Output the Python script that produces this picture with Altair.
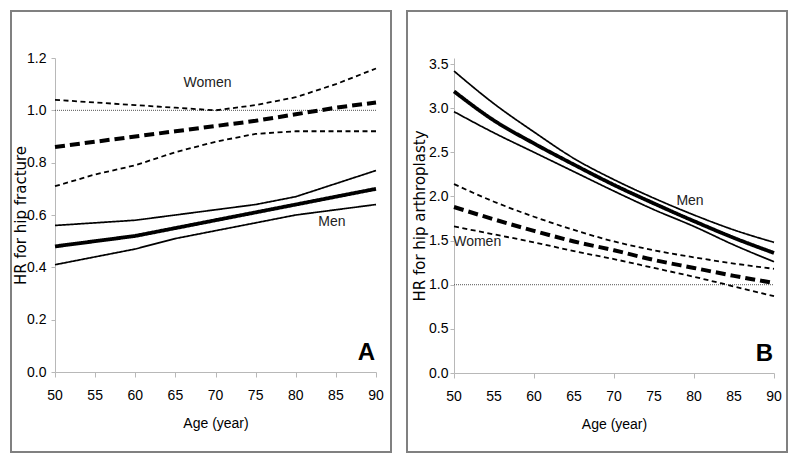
import altair as alt
import pandas as pd

ages = [50, 55, 60, 65, 70, 75, 80, 85, 90]

# Panel A: HR for hip fracture
a_women_upper = [1.04, 1.03, 1.02, 1.01, 1.00, 1.02, 1.05, 1.10, 1.16]
a_women_mean = [0.86, 0.88, 0.90, 0.92, 0.94, 0.96, 0.985, 1.01, 1.03]
a_women_lower = [0.71, 0.755, 0.79, 0.84, 0.88, 0.91, 0.92, 0.92, 0.92]
a_men_upper = [0.56, 0.57, 0.58, 0.60, 0.62, 0.64, 0.67, 0.72, 0.77]
a_men_mean = [0.48, 0.50, 0.52, 0.55, 0.58, 0.61, 0.64, 0.67, 0.70]
a_men_lower = [0.41, 0.44, 0.47, 0.51, 0.54, 0.57, 0.60, 0.62, 0.64]

# Panel B: HR for hip arthroplasty
b_men_upper = [3.42, 3.05, 2.73, 2.43, 2.19, 1.98, 1.79, 1.62, 1.48]
b_men_mean = [3.19, 2.86, 2.60, 2.36, 2.13, 1.92, 1.72, 1.53, 1.36]
b_men_lower = [2.96, 2.72, 2.50, 2.28, 2.06, 1.85, 1.66, 1.45, 1.26]
b_women_upper = [2.14, 1.94, 1.77, 1.62, 1.49, 1.39, 1.31, 1.24, 1.18]
b_women_mean = [1.88, 1.74, 1.61, 1.49, 1.39, 1.28, 1.19, 1.10, 1.02]
b_women_lower = [1.66, 1.57, 1.48, 1.38, 1.29, 1.19, 1.09, 0.98, 0.87]

x_ticks = [50, 55, 60, 65, 70, 75, 80, 85, 90]
x_tick_labels = ["50", "55", "60", "65", "70", "75", "80", "85", "90"]
a_y_ticks = [0.0, 0.2, 0.4, 0.6, 0.8, 1.0, 1.2]
b_y_ticks = [0.0, 0.5, 1.0, 1.5, 2.0, 2.5, 3.0, 3.5]

a_labels = ["Women", "Men"]
a_label_age = [69, 84.5]
a_label_hr = [1.105, 0.573]
b_labels = ["Men", "Women"]
b_label_age = [79.5, 52.9]
b_label_hr = [1.95, 1.487]

LABELFONT = "Liberation Sans, Arial, sans-serif"
TITLEFONT = "DejaVu Sans, Liberation Sans, sans-serif"


def long_df(sets):
    rows = []
    for sex, stat, vals in sets:
        for a, v in zip(ages, vals):
            rows.append({"age": a, "hr": v, "sex": sex, "stat": stat})
    return pd.DataFrame(rows)


df_a = long_df([
    ("Men", "upper", a_men_upper), ("Men", "mean", a_men_mean), ("Men", "lower", a_men_lower),
    ("Women", "upper", a_women_upper), ("Women", "mean", a_women_mean),
    ("Women", "lower", a_women_lower),
])
df_b = long_df([
    ("Men", "upper", b_men_upper), ("Men", "mean", b_men_mean), ("Men", "lower", b_men_lower),
    ("Women", "upper", b_women_upper), ("Women", "mean", b_women_mean),
    ("Women", "lower", b_women_lower),
])


def panel(df, ymax, yticks, ytitle, interp, labels, lab_age, lab_hr, letter,
          w, h, frame, ylabpad):
    xaxis = alt.Axis(values=x_ticks, title="Age (year)", grid=False, labels=False,
                     titleFont=LABELFONT, titleFontSize=14, titleFontWeight="normal",
                     titleColor="black", tickSize=5, titlePadding=39,
                     domainColor="#b8b8b8", tickColor="#b8b8b8")
    yaxis = alt.Axis(values=yticks, format=".1f", title=ytitle, grid=False,
                     labelOverlap=False,
                     labelFont=LABELFONT, labelFontSize=14, labelColor="black",
                     titleFont=TITLEFONT, titleFontSize=15, titleFontWeight="normal",
                     titleColor="black", tickSize=4, labelPadding=ylabpad,
                     titleX=-27, titleY=h / 2, titleAngle=270, titleAlign="center",
                     titleBaseline="bottom",
                     domainColor="#b8b8b8", tickColor="#b8b8b8")
    xscale = alt.Scale(domain=[50, 90], nice=False, zero=False)
    yscale = alt.Scale(domain=[0, ymax], nice=False, zero=True)
    base = alt.Chart(df)

    def group(sex, stats, width, dash):
        return base.transform_filter(
            alt.FieldEqualPredicate(field="sex", equal=sex)
        ).transform_filter(
            alt.FieldOneOfPredicate(field="stat", oneOf=stats)
        ).mark_line(color="black", interpolate=interp, strokeCap="butt",
                    strokeWidth=width, strokeDash=dash).encode(
            x=alt.X("age:Q", scale=xscale, axis=xaxis),
            y=alt.Y("hr:Q", scale=yscale, axis=yaxis),
            detail="stat:N")

    men_ci = group("Men", ["upper", "lower"], 1.7, [1, 0])
    men_mean = group("Men", ["mean"], 3.8, [1, 0])
    women_ci = group("Women", ["upper", "lower"], 1.8, [5, 3.5])
    women_mean = group("Women", ["mean"], 4.0, [10, 5])

    ref = alt.Chart(pd.DataFrame({"r": [1]})).mark_rule(
        color="#555555", strokeWidth=1, strokeDash=[1, 1]).encode(
        x=alt.datum(50), x2=alt.datum(90), y=alt.datum(1.0))
    lab_df = pd.DataFrame({"label": labels, "age": lab_age, "hr": lab_hr})
    texts = alt.Chart(lab_df).mark_text(font=LABELFONT, fontSize=14, color="#222222").encode(
        x="age:Q", y="hr:Q", text="label:N")
    tick_df = pd.DataFrame({"age": x_ticks, "lab": x_tick_labels})
    xlabels = alt.Chart(tick_df).mark_text(
        font=LABELFONT, fontSize=14, color="black", baseline="middle").encode(
        x="age:Q", y=alt.value(h + 24), text="lab:N")
    letter_mark = alt.Chart(pd.DataFrame({"t": [letter]})).mark_text(
        font=LABELFONT, fontSize=24, fontWeight="bold", align="right", baseline="bottom",
        color="black").encode(x=alt.value(w - 1), y=alt.value(h - 7), text="t:N")
    fx1, fx2, fy1, fy2 = frame
    box = alt.Chart(pd.DataFrame({"f": [0]})).mark_rect(
        fillOpacity=0, stroke="#808080", strokeWidth=2).encode(
        x=alt.value(fx1), x2=alt.value(fx2), y=alt.value(fy1), y2=alt.value(fy2))
    return alt.layer(men_ci, box, ref, women_ci, men_mean, women_mean, texts, xlabels,
                     letter_mark).properties(width=w, height=h)


# Panel B's plot area starts a few pixels above its 3.5 tick, as in the figure
b_top = 3.5 * 315 / 309

pa = panel(df_a, 1.2, a_y_ticks, "HR for hip fracture", "linear",
           a_labels, a_label_age, a_label_hr, "A", 321, 314, (-44, 336, -47, 394), 5)
pb = panel(df_b, b_top, b_y_ticks, "HR for hip arthroplasty", "monotone",
           b_labels, b_label_age, b_label_hr, "B", 320, 315, (-47, 333, -47, 394), 2)

chart = alt.hconcat(pa, pb, spacing=14).properties(
    padding={"left": 2, "top": 2, "right": 0, "bottom": 0}
).configure_view(strokeWidth=0).configure_axis(labelOverlap=False)

chart.save("out.html", embed_options={"renderer": "svg", "actions": False})
